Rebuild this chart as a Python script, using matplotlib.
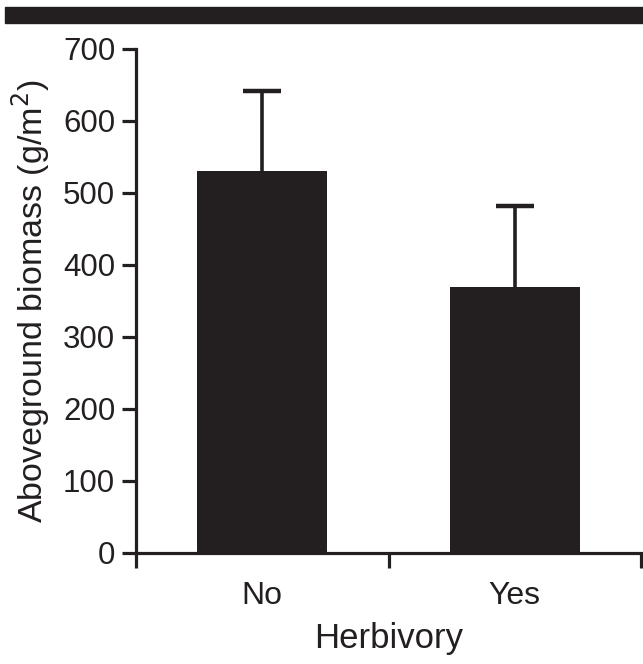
import matplotlib.pyplot as plt
from matplotlib.patches import Rectangle

plt.rcParams["font.family"] = ["Liberation Sans", "DejaVu Sans"]

INK = "#231f20"

categories = ["No", "Yes"]
biomass = [531, 370]
biomass_err = [111, 112]
y_ticks = [0, 100, 200, 300, 400, 500, 600, 700]

fig = plt.figure(figsize=(6.43, 6.64), dpi=100)
ax = fig.add_axes([136 / 643, 1 - 553 / 664, 505 / 643, 504 / 664])

# dark banner across the top
fig.patches.append(Rectangle((5 / 643, 1 - 23 / 664), 1, 16 / 664,
                             transform=fig.transFigure, color=INK, zorder=0))

x = list(range(len(categories)))
ax.bar(x, biomass, width=0.515, color=INK, zorder=2)
err = ax.errorbar(x, biomass, yerr=[[0] * len(x), biomass_err], fmt="none",
                  ecolor=INK, elinewidth=2.6, capsize=14, capthick=3.2, zorder=1)
# only the upper cap, like the original
err[1][0].set_visible(False)

ax.set_xlim(-0.5, len(categories) - 0.5)
ax.set_ylim(0, 700)
ax.set_yticks(y_ticks)
ax.set_xticks(x)
ax.set_xticklabels(categories)
ax.set_xticks([-0.5, 0.5, 1.5], minor=True)

for side in ["top", "right"]:
    ax.spines[side].set_visible(False)
for side in ["left", "bottom"]:
    ax.spines[side].set_linewidth(2.3)
    ax.spines[side].set_color(INK)

ax.tick_params(axis="y", length=10, width=2.3, color=INK, labelsize=22.5, pad=5, labelcolor=INK)
ax.tick_params(axis="x", which="major", length=0, labelsize=23, pad=20, labelcolor=INK)
ax.tick_params(axis="x", which="minor", length=11, width=2.3, color=INK)

ax.set_ylabel("Aboveground biomass (g/m$^2$)", fontsize=24.5, color=INK, labelpad=8)
ax.set_xlabel("Herbivory", fontsize=25, color=INK, labelpad=8)

fig.savefig("out.png", dpi=100)
